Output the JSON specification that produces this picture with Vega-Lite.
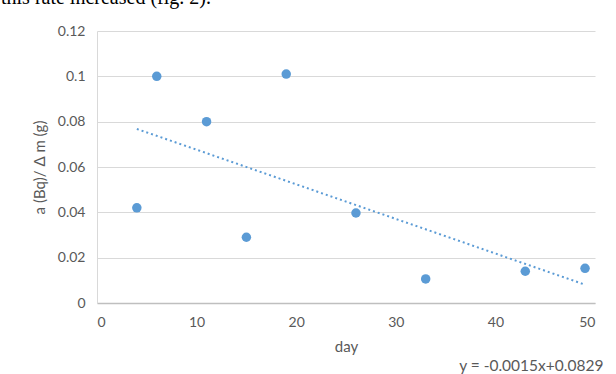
{
  "$schema": "https://vega.github.io/schema/vega-lite/v6.json",
  "width": 498,
  "height": 272,
  "autosize": {"type": "none"},
  "padding": {"left": 97, "top": 31, "right": 21, "bottom": 71},
  "background": "white",
  "title": {
    "text": "this rate increased (fig. 2).",
    "font": "Liberation Serif",
    "fontSize": 20,
    "fontWeight": "normal",
    "color": "black",
    "anchor": "start",
    "frame": "group",
    "baseline": "alphabetic",
    "dx": -96,
    "offset": 0
  },
  "config": {
    "font": "Lato",
    "view": {"stroke": null},
    "axis": {
      "labelFont": "Lato",
      "labelFontSize": 14,
      "labelColor": "#595959",
      "titleFont": "Lato",
      "titleFontSize": 15,
      "titleFontWeight": "normal",
      "titleColor": "#595959",
      "ticks": false
    }
  },
  "data": {
    "values": [
      {"day": 4, "ratio": 0.042},
      {"day": 6, "ratio": 0.1},
      {"day": 11, "ratio": 0.08},
      {"day": 15, "ratio": 0.029},
      {"day": 19, "ratio": 0.101},
      {"day": 26, "ratio": 0.0397},
      {"day": 33, "ratio": 0.0106},
      {"day": 43, "ratio": 0.014},
      {"day": 49, "ratio": 0.0153}
    ]
  },
  "layer": [
    {
      "mark": {"type": "line", "color": "#5B9BD5", "strokeWidth": 2, "strokeDash": [2, 3]},
      "transform": [{"regression": "ratio", "on": "day", "extent": [4, 49]}],
      "encoding": {
        "x": {"field": "day", "type": "quantitative"},
        "y": {"field": "ratio", "type": "quantitative"}
      }
    },
    {
      "mark": {"type": "circle", "color": "#5B9BD5", "opacity": 1, "size": 90},
      "encoding": {
        "x": {
          "field": "day",
          "type": "quantitative",
          "scale": {"domain": [0, 50], "nice": false, "zero": true},
          "axis": {
            "title": "day",
            "values": [0, 10, 20, 30, 40, 50],
            "grid": false,
            "domainColor": "#bfbfbf",
            "domainWidth": 1.5,
            "labelPadding": 12,
            "titlePadding": 10
          }
        },
        "y": {
          "field": "ratio",
          "type": "quantitative",
          "scale": {"domain": [0, 0.12], "nice": false},
          "axis": {
            "title": "a (Bq)/ Δ m (g)",
            "values": [0, 0.02, 0.04, 0.06, 0.08, 0.1, 0.12],
            "format": ".2~f",
            "grid": true,
            "gridColor": "#d9d9d9",
            "gridWidth": 1.2,
            "domainColor": "#d9d9d9",
            "labelPadding": 12,
            "titlePadding": 10
          }
        }
      }
    },
    {
      "data": {"values": [{"label": "y = -0.0015x+0.0829"}]},
      "mark": {"type": "text", "font": "Lato", "fontSize": 15.5, "color": "#595959", "align": "center", "baseline": "middle"},
      "encoding": {
        "text": {"field": "label"},
        "x": {"datum": 43.6},
        "y": {"datum": -0.0278}
      }
    }
  ]
}
